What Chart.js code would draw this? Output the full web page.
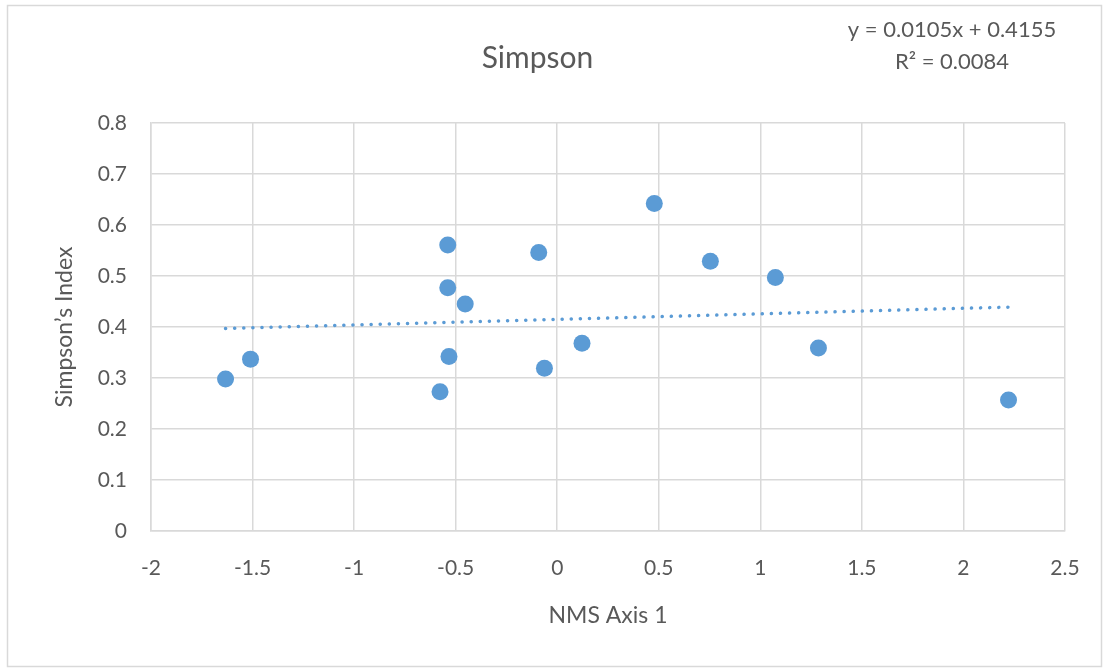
<!DOCTYPE html>
<html>
<head>
<meta charset="utf-8">
<script src="https://cdn.jsdelivr.net/npm/chart.js@4.4.0/dist/chart.umd.min.js"></script>
<style>
  html, body { margin: 0; padding: 0; background: #fff; }
  #wrap { width: 1108px; height: 670px; position: relative; }
</style>
</head>
<body>
<div id="wrap"><canvas id="grafico"></canvas></div>
<script>
// dados
var nmsAxis1 = [-1.633, -1.510, -0.577, -0.539, -0.539, -0.533, -0.453, -0.091, -0.063, 0.122, 0.478, 0.754, 1.074, 1.286, 2.222];
var simpsonIdx = [0.298, 0.337, 0.273, 0.561, 0.477, 0.342, 0.445, 0.546, 0.319, 0.368, 0.642, 0.529, 0.497, 0.359, 0.257];
// linha de tendencia (extremos)
var trendX = [-1.633, 2.222];
var trendY = [0.397, 0.439];
var equationLines = ["y = 0.0105x + 0.4155", "R² = 0.0084"];

var fonte = "Lato, 'Open Sans', sans-serif";
var cinza = "#595959";
var azul = "#5b9bd5";

var pontos = nmsAxis1.map(function(v, i) { return {x: v, y: simpsonIdx[i]}; });
var tendencia = trendX.map(function(v, i) { return {x: v, y: trendY[i]}; });

//formato dos ticks sem zeros extras
var formatoTick = function(v) { return String(+v.toFixed(1)); };

//Plugin: borda externa e equacao
var extras = {
  id: 'extras',
  afterDraw: function(chart) {
    var ctx = chart.ctx;
    ctx.save();
    ctx.strokeStyle = "#d9d9d9";
    ctx.lineWidth = 1.5;
    ctx.strokeRect(7.5, 5.5, 1094, 661);
    ctx.fillStyle = cinza;
    ctx.font = "22px " + fonte;
    ctx.textAlign = "center";
    ctx.textBaseline = "middle";
    ctx.fillText(equationLines[0], 952, 30);
    ctx.fillText(equationLines[1], 952, 62);
    ctx.restore();
  }
};

var config = {
  type: 'scatter',
  data: {
    datasets: [{
      label: "Simpson",
      data: pontos,
      backgroundColor: azul,
      borderColor: azul,
      pointRadius: 8.5,
      pointHoverRadius: 8.5,
      borderWidth: 0,
      order: 1
    }, {
      label: "Linear",
      type: 'line',
      data: tendencia,
      borderColor: azul,
      borderWidth: 3.5,
      borderDash: [0.1, 9],
      borderCapStyle: 'round',
      pointRadius: 0,
      fill: false,
      order: 2
    }]
  },
  options: {
    responsive: true,
    maintainAspectRatio: false,
    animation: false,
    layout: { padding: { left: 10, right: 43, top: 0, bottom: 0 } },
    plugins: {
      legend: { display: false },
      tooltip: { enabled: false },
      title: {
        display: true,
        text: "Simpson",
        color: cinza,
        font: { family: fonte, size: 30, weight: 'normal' },
        padding: { top: 40, bottom: 47 }
      }
    },
    scales: {
      x: {
        type: 'linear',
        min: -2, max: 2.5,
        afterFit: function(s) { s.height = 139; },
        grid: { color: "#d9d9d9", lineWidth: 1.5, drawTicks: false },
        border: { color: "#d9d9d9", width: 1.5 },
        ticks: { stepSize: 0.5, color: cinza, padding: 25, callback: formatoTick, font: { family: fonte, size: 21 } },
        title: {
          display: true, text: "NMS Axis 1", color: cinza,
          font: { family: fonte, size: 23 }, padding: { top: 0, bottom: 41 }
        }
      },
      y: {
        min: 0, max: 0.8,
        afterFit: function(s) { s.width = 141; },
        grid: { color: "#d9d9d9", lineWidth: 1.5, drawTicks: false },
        border: { color: "#d9d9d9", width: 1.5 },
        ticks: { stepSize: 0.1, color: cinza, padding: 24, callback: formatoTick, font: { family: fonte, size: 21 } },
        title: {
          display: true, text: "Simpson’s Index", color: cinza,
          font: { family: fonte, size: 23 }, padding: { top: 41, bottom: 0 }
        }
      }
    }
  },
  plugins: [extras]
};

window.onload = function() {
  var ctx = document.getElementById("grafico").getContext("2d");
  window.meuGrafico = new Chart(ctx, config);
};
</script>
</body>
</html>
